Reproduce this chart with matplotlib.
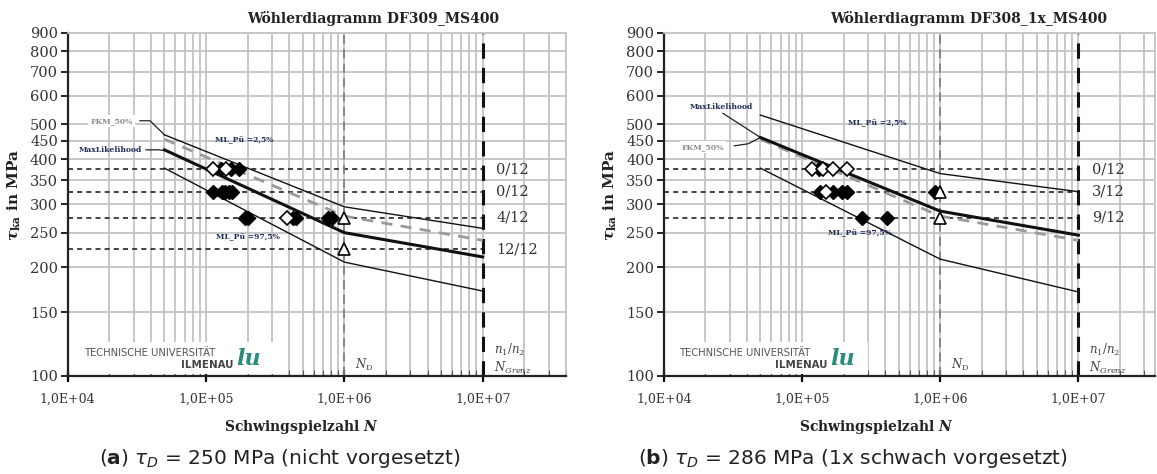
"""
Woehler diagrams DF309 / DF308 (two panels).
"""

import matplotlib
matplotlib.use('Agg')
import matplotlib.pyplot as plt
from matplotlib.ticker import FixedLocator, NullFormatter, LogLocator

plt.rcParams['mathtext.fontset'] = 'dejavuserif'

# ---------------- data ----------------
x_lim = (1e4, 4e7)
y_ticks = [100, 150, 200, 250, 300, 350, 400, 450, 500, 600, 700, 800, 900]
x_ticks = [1e4, 1e5, 1e6, 1e7]
x_ticklabels = ['1,0E+04', '1,0E+05', '1,0E+06', '1,0E+07']

# knee points of the S-N curves (N)
curve_n = [5e4, 1e6, 1e7]
fkm_50 = [455, 278, 238]

# (a) DF309_MS400
a_levels = [375, 325, 275, 225]
a_ratios = ['0/12', '0/12', '4/12', '12/12']
a_ml = [425, 250, 214]
a_p025 = [468, 295, 257]
a_p975 = [378, 207, 172]
a_fail_n = [1.28e5, 1.52e5, 1.72e5, 1.13e5, 1.30e5, 1.38e5, 1.46e5, 1.55e5,
            1.92e5, 2.02e5, 4.25e5, 4.5e5, 7.6e5, 8.2e5]
a_fail_s = [375, 375, 375, 325, 325, 325, 325, 325,
            275, 275, 275, 275, 275, 275]
a_open_n = [1.12e5, 1.40e5, 3.85e5]
a_open_s = [375, 375, 275]
a_runout_n = [1e6, 1e6]
a_runout_s = [275, 225]

# (b) DF308_1x_MS400
b_levels = [375, 325, 275]
b_ratios = ['0/12', '3/12', '9/12']
b_ml = [460, 287, 246]
b_p025 = [531, 365, 325]
b_p975 = [378, 211, 171]
b_fail_n = [1.33e5, 1.35e5, 1.68e5, 1.94e5, 2.1e5, 9.2e5, 2.7e5, 4.14e5]
b_fail_s = [375, 325, 325, 325, 325, 325, 275, 275]
b_open_n = [1.19e5, 1.43e5, 1.68e5, 2.1e5, 1.49e5]
b_open_s = [375, 375, 375, 375, 325]
b_runout_n = [1e6, 1e6]
b_runout_s = [325, 275]

grid_col = '#c4c4c4'
navy = '#1f2d5a'
serif = 'DejaVu Serif'

fig = plt.figure(figsize=(11.57, 4.74), dpi=100)


def draw_panel(ax, xmax, levels, ratios, ml, p025, p975,
               fail_n, fail_s, open_n, open_s, run_n, run_s):
    ax.set_xscale('log')
    ax.set_yscale('log')
    ax.set_xlim(x_lim[0], xmax)
    ax.set_ylim(100, 900)

    ax.yaxis.set_major_locator(FixedLocator(y_ticks))
    ax.yaxis.set_minor_locator(FixedLocator([]))
    ax.set_yticklabels([str(v) for v in y_ticks])
    ax.xaxis.set_major_locator(FixedLocator(x_ticks))
    ax.xaxis.set_minor_locator(LogLocator(base=10, subs=range(2, 10)))
    ax.xaxis.set_minor_formatter(NullFormatter())
    ax.set_xticklabels(x_ticklabels)

    ax.grid(True, which='both', axis='x', color=grid_col, lw=1.3)
    ax.grid(True, which='major', axis='y', color=grid_col, lw=1.3)
    ax.set_axisbelow(True)

    for side in ['top', 'right']:
        ax.spines[side].set_color(grid_col)
        ax.spines[side].set_linewidth(1.3)
    for side in ['left', 'bottom']:
        ax.spines[side].set_color('#222222')
        ax.spines[side].set_linewidth(1.6)

    ax.tick_params(axis='y', which='major', direction='out', length=5,
                   width=1.2, labelsize=10.5, labelcolor='#333333', pad=2)
    ax.tick_params(axis='x', which='major', direction='inout', length=8,
                   width=1.6, labelsize=9, labelcolor='#333333', pad=8)
    ax.tick_params(axis='x', which='minor', direction='in', length=4,
                   width=0.8, color='#555555')
    for lab in ax.get_xticklabels() + ax.get_yticklabels():
        lab.set_family(serif)

    # load levels
    ax.hlines(levels, x_lim[0], 1e7, colors='#222222', lw=1.2,
              linestyles=(0, (3, 2.5)), zorder=2)
    for lv, r in zip(levels, ratios):
        ax.text(1.25e7, lv, r, fontsize=10.5, family=serif, color='#333333',
                ha='left', va='center')

    # N_D and N_Grenz
    ax.axvline(1e6, color='#808080', lw=1.3, ls=(0, (5, 3)), zorder=2)
    ax.axvline(1e7, color='#111111', lw=2.2, ls=(0, (5, 3)), zorder=2)
    ax.text(1.2e6, 107, r'$N_\mathrm{D}$', fontsize=8.5, color='#444444',
            ha='left', va='center')
    ax.text(1.2e7, 118, r'$n_1/n_2$', fontsize=8.5, color='#444444',
            ha='left', va='center')
    ax.text(1.2e7, 105, r'$N_{Grenz}$', fontsize=8.5, color='#444444',
            ha='left', va='center')

    # curves
    ax.plot(curve_n, fkm_50, color='#9a9a9a', lw=2.0, ls=(0, (4, 3)), zorder=3)
    ax.plot(curve_n, p025, color='#111111', lw=1.0, zorder=4)
    ax.plot(curve_n, p975, color='#111111', lw=1.0, zorder=4)
    ax.plot(curve_n, ml, color='#111111', lw=2.2, zorder=4)

    # specimens
    ax.plot(fail_n, fail_s, ls='none', marker='D', ms=7, mfc='black',
            mec='black', zorder=5)
    ax.plot(open_n, open_s, ls='none', marker='D', ms=7, mfc='white',
            mec='black', mew=1.2, zorder=6)
    ax.plot(run_n, run_s, ls='none', marker='^', ms=9, mfc='white',
            mec='black', mew=1.2, zorder=6)

    # university logo
    ax.add_patch(plt.Rectangle((0.025, 0.004), 0.39, 0.095,
                               transform=ax.transAxes, facecolor='white',
                               edgecolor='none', zorder=7))
    ax.text(0.032, 0.066, 'TECHNISCHE UNIVERSITÄT', transform=ax.transAxes,
            fontsize=7.2, color='#555555', ha='left', va='center', zorder=8)
    ax.text(0.332, 0.031, 'ILMENAU', transform=ax.transAxes, fontsize=7.4,
            fontweight='bold', color='#444444', ha='right', va='center',
            zorder=8)
    ax.text(0.338, 0.05, 'lu', transform=ax.transAxes, fontsize=16,
            fontstyle='italic', fontweight='bold', color='#2a8c7c',
            family=serif, ha='left', va='center', zorder=8)


ax_a = fig.add_axes([0.0585, 0.2074, 0.4307, 0.7236])
draw_panel(ax_a, 4e7, a_levels, a_ratios, a_ml, a_p025, a_p975,
           a_fail_n, a_fail_s, a_open_n, a_open_s, a_runout_n, a_runout_s)

ax_b = fig.add_axes([0.5737, 0.2074, 0.4248, 0.7236])
draw_panel(ax_b, 3.6e7, b_levels, b_ratios, b_ml, b_p025, b_p975,
           b_fail_n, b_fail_s, b_open_n, b_open_s, b_runout_n, b_runout_s)

small = dict(fontsize=5.5, fontweight='bold', family=serif, zorder=9)

# annotations panel (a)
ax_a.text(2.08e4, 512, 'FKM_50%', color='#8c8c8c', ha='center', va='center',
          bbox=dict(facecolor='white', edgecolor='none', pad=1.5), **small)
ax_a.plot([3.33e4, 3.94e4, 5e4], [512, 512, 468], color='#222222', lw=0.9)
ax_a.text(2.05e4, 425, 'MaxLikelihood', color=navy, ha='center', va='center',
          **small)
ax_a.plot([3.68e4, 4.57e4, 5e4], [425, 425, 423], color='#222222', lw=0.9)
ax_a.text(1.16e5, 453, 'ML_Pü =2,5%', color=navy, ha='left', va='center',
          **small)
ax_a.text(1.18e5, 243, 'ML_Pü =97,5%', color=navy, ha='left', va='center',
          **small)

# annotations panel (b)
ax_b.text(2.61e4, 560, 'MaxLikelihood', color=navy, ha='center', va='center',
          **small)
ax_b.plot([2.68e4, 5e4], [537, 460], color='#222222', lw=0.9)
ax_b.text(1.92e4, 433, 'FKM_50%', color='#8c8c8c', ha='center', va='center',
          bbox=dict(facecolor='white', edgecolor='none', pad=1.5), **small)
ax_b.plot([3.24e4, 4.1e4, 5e4], [436, 442, 460], color='#222222', lw=0.9)
ax_b.text(2.15e5, 504, 'ML_Pü =2,5%', color=navy, ha='left', va='center',
          **small)
ax_b.text(1.54e5, 249, 'ML_Pü =97,5%', color=navy, ha='left', va='center',
          **small)

# titles, axis labels, captions
for xc, title in [(373, 'Wöhlerdiagramm DF309_MS400'),
                  (969, 'Wöhlerdiagramm DF308_1x_MS400')]:
    fig.text(xc / 1157, 1 - 19 / 474, title, fontsize=10, fontweight='bold',
             family=serif, color='#222222', ha='center', va='center')

for xc in [14, 610]:
    fig.text(xc / 1157, 1 - 195 / 474, r'$\boldsymbol{\tau}_{\mathbf{ka}}$ in MPa',
             rotation=90, fontsize=11, fontweight='bold', family=serif,
             color='#222222', ha='center', va='center')

for xc in [301, 876]:
    fig.text(xc / 1157, 1 - 427 / 474, r'Schwingspielzahl $\boldsymbol{N}$',
             fontsize=10, fontweight='bold', family=serif, color='#222222',
             ha='center', va='center')

fig.text(280 / 1157, 1 - 458 / 474,
         r'($\mathbf{a}$) $\tau_D$ = 250 MPa (nicht vorgesetzt)',
         fontsize=14.5, color='#222222', ha='center', va='center',
         math_fontfamily='dejavusans')
fig.text(853 / 1157, 1 - 458 / 474,
         r'($\mathbf{b}$) $\tau_D$ = 286 MPa (1x schwach vorgesetzt)',
         fontsize=14.5, color='#222222', ha='center', va='center',
         math_fontfamily='dejavusans')

fig.savefig('out.png', dpi=100, facecolor='white')
